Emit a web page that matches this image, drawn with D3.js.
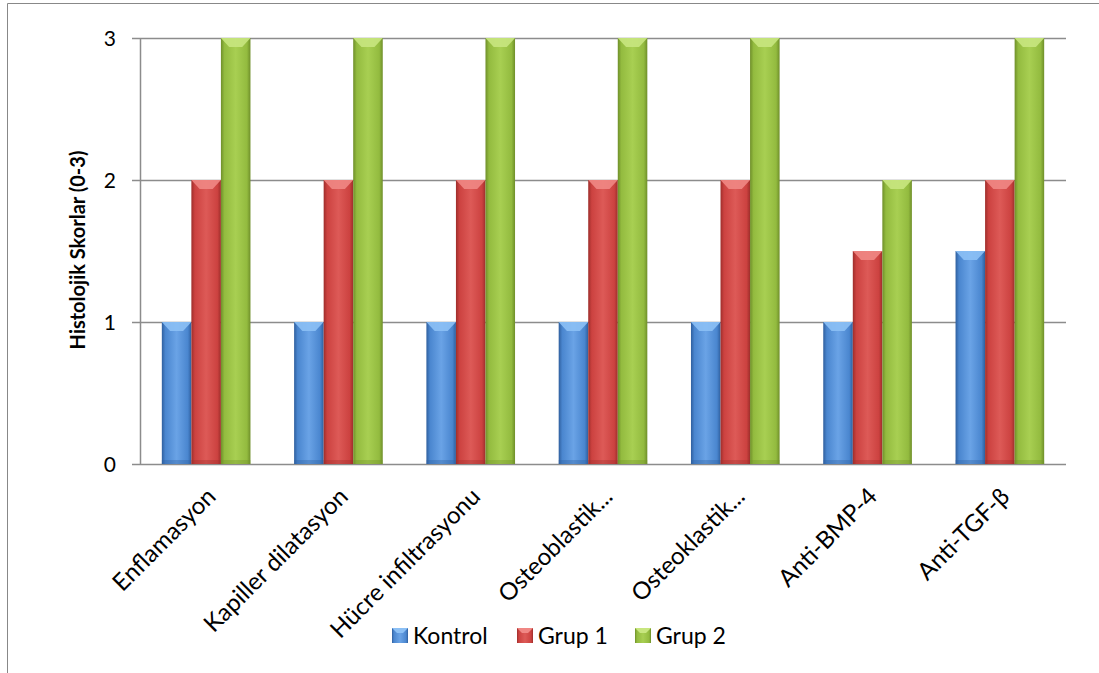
<!DOCTYPE html>
<html><head><meta charset="utf-8">
<script src="https://cdn.jsdelivr.net/npm/d3@7"></script>
<style>body{margin:0;background:#fff}svg{display:block}</style>
</head><body>
<script>
const categories = ["Enflamasyon","Kapiller dilatasyon","Hücre infiltrasyonu","Osteoblastik...","Osteoklastik...","Anti-BMP-4","Anti-TGF-β"];
const seriesNames = ["Kontrol","Grup 1","Grup 2"];
const kontrol = [1,1,1,1,1,1,1.5];
const grup1 = [2,2,2,2,2,1.5,2];
const grup2 = [3,3,3,3,3,2,3];
const yTicks = [0,1,2,3];

const W=1099,H=673;
const font = "Lato, 'Open Sans', sans-serif";
const svg = d3.select("body").append("svg").attr("width",W).attr("height",H);
const defs = svg.append("defs");
const cols = [
  {dark:"#2f5f9e",mid:"#4a86cf",light:"#6aa3e6",top:"#8cc0f5"},
  {dark:"#9e2e2b",mid:"#cc4240",light:"#dd5a57",top:"#f08784"},
  {dark:"#6f8f2a",mid:"#93bb3f",light:"#a8cf52",top:"#c8e67f"}
];
cols.forEach((c,i)=>{
  const g = defs.append("linearGradient").attr("id","g"+i).attr("x1","0").attr("x2","1").attr("y1","0").attr("y2","0");
  g.append("stop").attr("offset","0").attr("stop-color",c.dark);
  g.append("stop").attr("offset","0.12").attr("stop-color",c.mid);
  g.append("stop").attr("offset","0.5").attr("stop-color",c.light);
  g.append("stop").attr("offset","0.88").attr("stop-color",c.mid);
  g.append("stop").attr("offset","1").attr("stop-color",c.dark);
});

// outer border
svg.append("path").attr("d",`M7.5,${H} V3.5 H${W}`).attr("fill","none").attr("stroke","#888").attr("stroke-width",1);

const x0 = d3.scaleBand().domain(categories).range([140,1066]).paddingInner(0.33).paddingOuter(0.165);
const x1 = d3.scaleBand().domain(seriesNames).range([0,x0.bandwidth()]);
const y = d3.scaleLinear().domain([0,3]).range([464,38]);

// gridlines
svg.append("g").selectAll("line").data(yTicks).join("line")
  .attr("x1",132).attr("x2",1066).attr("y1",d=>y(d)+0.5).attr("y2",d=>y(d)+0.5)
  .attr("stroke","#8c8c8c").attr("stroke-width",1.5);
svg.append("line").attr("x1",140.5).attr("x2",140.5).attr("y1",38).attr("y2",464).attr("stroke","#8c8c8c").attr("stroke-width",1.5);

// y tick labels
svg.append("g").selectAll("text").data(yTicks).join("text")
  .attr("x",116).attr("y",d=>y(d)).attr("dy","0.36em").attr("text-anchor","end")
  .attr("font-family",font).attr("font-size",21).attr("fill","#000").text(d=>d);

// y title
svg.append("text").attr("transform","translate(85,250) rotate(-90)").attr("text-anchor","middle")
  .attr("font-family",font).attr("font-size",20).attr("font-weight","bold").text("Histolojik Skorlar (0-3)");

const data = [kontrol,grup1,grup2];
const gBars = svg.append("g");
categories.forEach((cat,ci)=>{
  seriesNames.forEach((s,si)=>{
    const v = data[si][ci];
    const bx = x0(cat)+x1(s), bw = x1.bandwidth(), by = y(v), bh = y(0)-y(v);
    gBars.append("rect").attr("x",bx).attr("y",by).attr("width",bw).attr("height",bh).attr("fill",`url(#g${si})`);
    const t = Math.min(9,bh);
    gBars.append("path").attr("d",`M${bx},${by} L${bx+bw},${by} L${bx+bw*0.72},${by+t} L${bx+bw*0.28},${by+t} Z`)
      .attr("fill",cols[si].top).attr("opacity",0.9);
    gBars.append("rect").attr("x",bx).attr("y",y(0)-4).attr("width",bw).attr("height",4).attr("fill",cols[si].dark).attr("opacity",0.35);
  });
});

// x labels
svg.append("g").selectAll("text").data(categories).join("text")
  .attr("transform",d=>`translate(${x0(d)+x0.bandwidth()/2+11},${498}) rotate(-45)`)
  .attr("text-anchor","end").attr("font-family",font).attr("font-size",24).attr("fill","#000").text(d=>d);

// legend
const legX = [392,517,635];
const lg = svg.append("g");
seriesNames.forEach((s,i)=>{
  lg.append("rect").attr("x",legX[i]).attr("y",628).attr("width",16).attr("height",15).attr("fill",`url(#g${i})`);
  lg.append("path").attr("d",`M${legX[i]},628 L${legX[i]+16},628 L${legX[i]+11},633 L${legX[i]+5},633 Z`).attr("fill",cols[i].top);
  lg.append("text").attr("x",legX[i]+21).attr("y",636).attr("dy","0.36em").attr("font-family",font).attr("font-size",23).text(s);
});
</script>
</body></html>
